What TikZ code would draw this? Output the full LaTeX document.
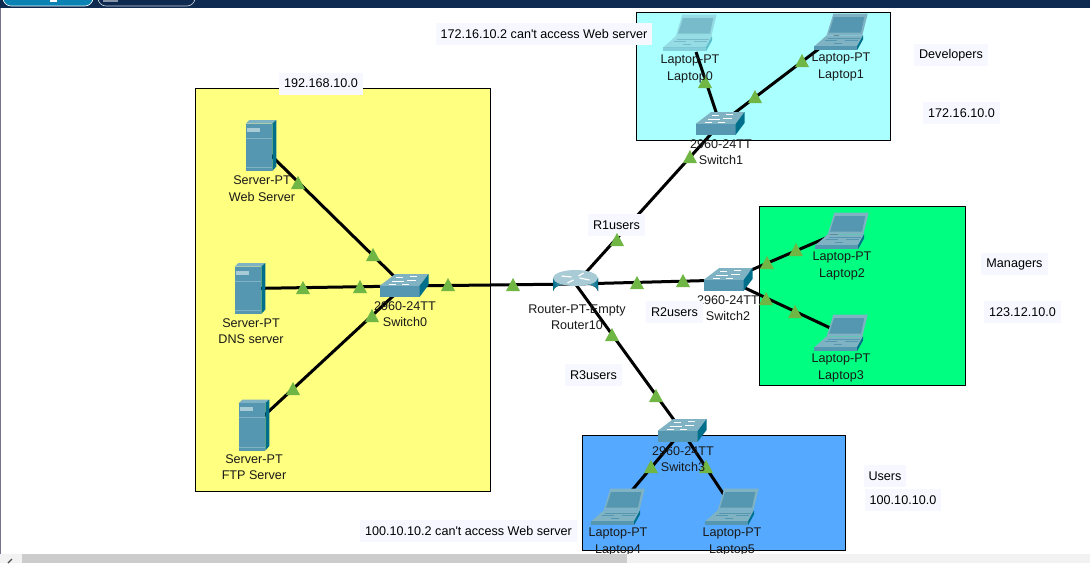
\documentclass[tikz,border=0pt]{standalone}
\usepackage{fontspec}
\newfontfamily\labelfont{Liberation Sans}
\definecolor{navy}{HTML}{0F2A50}
\definecolor{tabblue}{HTML}{0A82B4}
\definecolor{boxfill}{HTML}{F7F7FF}
\definecolor{zoneyellow}{HTML}{FFFF80}
\definecolor{zonecyan}{HTML}{AAFFFF}
\definecolor{zonegreen}{HTML}{00FF80}
\definecolor{zoneblue}{HTML}{55AAFF}
\definecolor{linkgreen}{HTML}{70B644}
\definecolor{devfront}{HTML}{5596B0}
\definecolor{devside}{HTML}{006F8C}
\definecolor{devtop}{HTML}{7FB3C4}
\definecolor{devpale}{HTML}{A9CBD6}
\usetikzlibrary{positioning}
\tikzset{
  zone/.style={draw=black,line width=1pt},
  link/.style={draw=black,line width=3pt},
  devlabel/.style={align=center,inner sep=0pt,text=black!90,font=\labelfont\fontsize{12.6}{16.5}\selectfont},
  notebox/.style={fill=boxfill,inner xsep=5pt,inner ysep=0pt,minimum height=22pt,font=\labelfont\fontsize{12.6}{16.5}\selectfont},
  pics/linkup/.style={code={\fill[linkgreen] (-7,6)--(0,-7)--(7,6)--cycle;}},
  pics/server/.style={code={
    \fill[devtop] (-15.3,-22)--(-11.5,-25.5)--(15.3,-25.5)--(11.4,-22)--cycle;
    \fill[devside] (11.4,-22)--(15.3,-25.5)--(15.3,21)--(11.4,25.5)--cycle;
    \fill[devfront] (-15.3,-22) rectangle (11.4,25.5);
    \fill[devpale] (-13.6,-18) rectangle (-1.3,-13.6);
    \draw[devtop,line width=.5pt] (-15.3,-7.5)--(11.4,-7.5) (-15.3,22)--(11.4,22);}},
  pics/switch/.style={code={
    \fill[devtop] (-24.5,0)--(-8.8,-12)--(24.5,-12)--(15.5,0)--cycle;
    \fill[devfront] (-24.5,0) rectangle (15.5,11);
    \fill[devside] (15.5,0)--(24.5,-12)--(24.5,-1)--(15.5,11)--cycle;
    \draw[white,line width=.7pt] (-15,-1.5)--(-8,-1.5) (-2,-2)--(5,-2) (-8,-9)--(-1,-9) (6,-9.5)--(13,-9.5) (-12,-5)--(0,-5) (3,-5.5)--(12,-5.5);}},
  pics/laptop/.style={code={
    \fill[devtop] (-7.7,-18.3)--(26.7,-18.3)--(21.3,3.3)--(-14.3,3.3)--cycle;
    \fill[devfront] (-7,-15)--(23.3,-15)--(20,.7)--(-12,.7)--cycle;
    \fill[devtop] (-14.3,3.3)--(22,3.3)--(16,14.3)--(-26.7,14.3)--cycle;
    \fill[devfront] (-26.7,14.3) rectangle (16,18.3);
    \fill[devside] (22,3.3)--(16,14.3)--(16,18.3)--(22,7.5)--cycle;
    \draw[devfront,line width=.5pt] (-13,6)--(19,6) (-16,8.5)--(-4,8.5) (4,8.5)--(17,8.5) (-7,11.5)--(1,11.5);}},
  pics/router/.style={code={
    \fill[left color=devside,right color=devside,middle color=white!70!devfront] (-22.5,-6)--(-22.5,7) arc[start angle=180,end angle=360,x radius=22.5,y radius=8]--(22.5,-6)--cycle;
    \fill[devpale] (0,-6) ellipse[x radius=22.5,y radius=8];
    \draw[white,line width=1.2pt] (-14,-8)--(-4,-7) (14,-4)--(4,-6) (-8,-1)--(-2,-4) (8,-11)--(3,-8);}}
}
\begin{document}
\begin{tikzpicture}[x=1pt,y=-1pt]
\clip (0,0) rectangle (1090,563);
\fill[white] (0,0) rectangle (1090,563);
% window frame
\fill[navy] (0,0) rectangle (1090,8);
\fill[tabblue,draw=white,line width=.6pt,rounded corners=8pt] (3,-12) rectangle (93,6);
\fill[navy,draw=white!80!navy,line width=.6pt,rounded corners=8pt] (98,-12) rectangle (195,6);
\fill[white] (50,0) rectangle (57,2);
\fill[white!50!navy] (103,0) rectangle (118,2);
\fill[gray!90!blue] (0,8) rectangle (1,554);
% zones
\draw[zone,fill=zoneyellow] (195,88) rectangle (490,491);
\draw[zone,fill=zonecyan] (636.5,12) rectangle (890,140);
\draw[zone,fill=zonegreen] (759,206) rectangle (965,385);
\draw[zone,fill=zoneblue] (582.5,435) rectangle (845,550);
% devices
\foreach \n/\x/\y in {WebServer/261/145.5,DNSserver/250/288.5,FTPServer/254/425,Switch0/404/286,Switch1/720/124,Switch2/728/280,Switch3/682/431,Router10/575.5/284,Laptop0/690/33,Laptop1/841/32,Laptop2/842/231,Laptop3/841/333,Laptop4/618/507,Laptop5/732/507}
  \coordinate (\n) at (\x,\y);
\coordinate (Laptop0foot) at (696,52);
\foreach \a/\b in {WebServer/Switch0,DNSserver/Switch0,FTPServer/Switch0,Switch0/Router10,Router10/Switch1,Router10/Switch2,Router10/Switch3,Laptop0foot/Switch1,Laptop1/Switch1,Laptop2/Switch2,Laptop3/Switch2,Laptop4/Switch3,Laptop5/Switch3}
  \draw[link] (\a)--(\b);
\node[notebox] (r1users) at (616.5,225) {R1users};
\foreach \n in {WebServer,DNSserver,FTPServer} \pic at (\n) {server};
\foreach \n in {Switch0,Switch1,Switch2,Switch3} \pic at (\n) {switch};
\foreach \n in {Laptop1,Laptop2,Laptop3,Laptop4,Laptop5} \pic at (\n) {laptop};
\pic[opacity=.45] at (Laptop0) {laptop};
\pic at (Router10) {router};
% link lights
\foreach \x/\y in {298/183,373/255,303/288,360/287,293/389,372/316,448/285,513/285,617/240,690/157,637/283,683/281,612/335,656/396,705/82,755/97,802/61,767/263,796/250,766/299,795/312,651/467,706/467}
  \pic at (\x,\y) {linkup};
% device labels
\foreach \n/\x/\y/\a/\b in {WebServer/262/188.5/Server-PT/Web Server,DNSserver/251/331/Server-PT/DNS server,FTPServer/254/467/Server-PT/FTP Server,Switch0/405/314/2960-24TT/Switch0,Switch1/721/152/2960-24TT/Switch1,Switch2/728/308/2960-24TT/Switch2,Switch3/683/459/2960-24TT/Switch3,Router10/577/317/Router-PT-Empty/Router10,Laptop0/690/69/Laptop-PT/Laptop0,Laptop1/841/67/Laptop-PT/Laptop1,Laptop2/842/266/Laptop-PT/Laptop2,Laptop3/841/368/Laptop-PT/Laptop3,Laptop4/618/542/Laptop-PT/Laptop4,Laptop5/732/542/Laptop-PT/Laptop5}
  \node[devlabel] (\n-label) at (\x,\y) {\a\\\b};
% notes
\foreach \n/\x/\y/\t in {yellownet/321/83.5/192.168.10.0/24,devnote/544/34/172.16.10.2 can't access Web server,developers/951/55/Developers,devnet/961.5/113/172.16.10.0/24,managers/1014.5/264/Managers,mgrnet/1022.5/312/123.12.10.0/24,users/885/476/Users,usernet/903/500/100.10.10.0/24,usernote/468.5/531/100.10.10.2 can't access Web server,r2users/674.5/312/R2users,r3users/593.5/375/R3users}
  \node[notebox] (\n) at (\x,\y) {\t};
% scroll bar
\fill[white] (0,554) rectangle (1090,563);
\fill[black!5] (0,554) rectangle (1090,563);
\fill[black!20] (22,554) rectangle (627,563);
\draw[black!70,line width=1.2pt] (12,559)--(8,563);
\end{tikzpicture}
\end{document}
